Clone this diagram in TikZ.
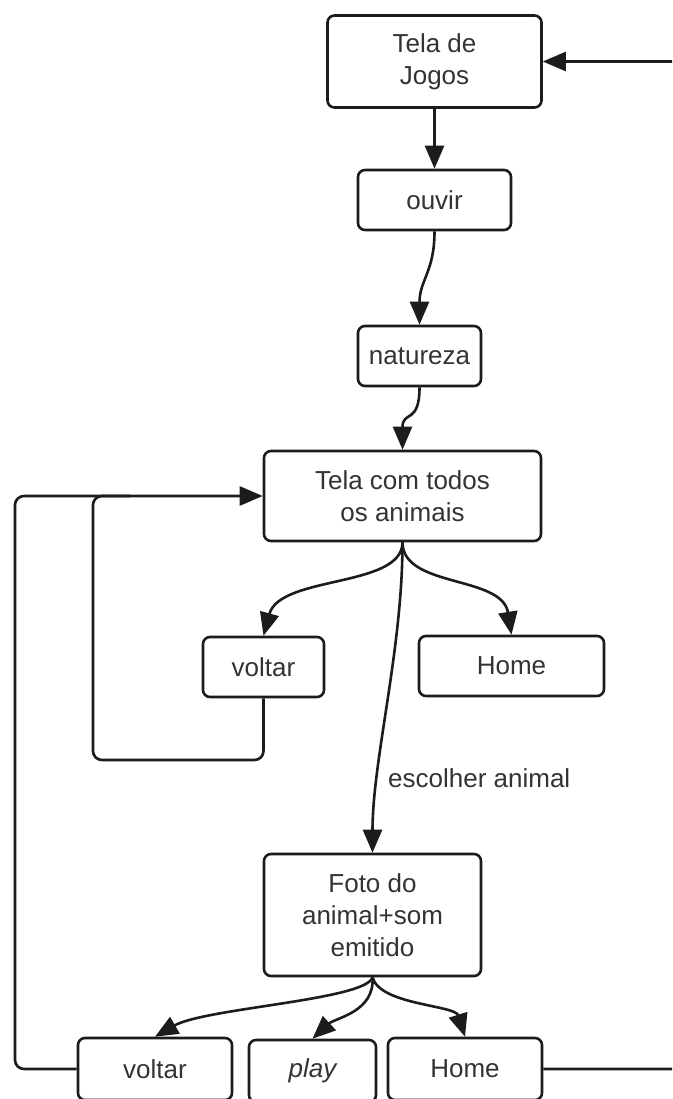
\documentclass[tikz,border=0pt]{standalone}
\usepackage{fontspec}
\setmainfont{Liberation Sans}
\usetikzlibrary{arrows.meta}
\definecolor{ink}{HTML}{1C1C1C}
\definecolor{txt}{HTML}{333333}
\tikzset{
  box/.style={draw=ink, line width=2.6pt, rounded corners=7pt, align=center,
    inner sep=0pt, text=txt, font=\fontsize{26}{32}\selectfont},
  tip/.style={-{Triangle[length=23pt,width=19pt]}},
  link/.style={draw=ink, line width=2.6pt, tip},
  wire/.style={draw=ink, line width=2.6pt, rounded corners=9pt},
  lbl/.style={text=txt, font=\fontsize{26}{32}\selectfont, inner sep=0pt}
}
\begin{document}
\begin{tikzpicture}[x=1pt, y=-1pt]
\path[use as bounding box, clip] (0,0) rectangle (672,1099);
\fill[white] (0,0) rectangle (672,1099);

% screens
\node[box, minimum width=214pt, minimum height=92pt] (tela1) at (434.5,61.5) {Tela de\\Jogos};
\node[box, minimum width=153pt, minimum height=60pt] (ouvir) at (434.5,200) {ouvir};
\node[box, minimum width=123pt, minimum height=60pt] (natureza) at (419.5,356) {natureza};
\node[box, minimum width=277pt, minimum height=90pt] (tela2) at (402.5,496) {Tela com todos\\os animais};
\node[box, minimum width=121pt, minimum height=60pt] (voltarA) at (263.5,667) {voltar};
\node[box, minimum width=185pt, minimum height=60pt] (homeA) at (511.5,666) {Home};
\node[box, minimum width=217pt, minimum height=122pt] (foto) at (372.5,915) {Foto do\\animal+som\\emitido};
\node[box, minimum width=154pt, minimum height=62pt] (voltarB) at (155,1069) {voltar};
\node[box, minimum width=127pt, minimum height=62pt] (play) at (312.5,1071) {\itshape play};
\node[box, minimum width=154pt, minimum height=62pt] (homeB) at (465,1069) {Home};

% forward flow
\draw[link] (tela1.south) -- (ouvir.north);
\draw[link] (ouvir.south) .. controls (434.5,272) and (419.5,280) .. (natureza.north);
\draw[link] (natureza.south) .. controls (419.5,425) and (402.5,410) .. (tela2.north);
\draw[link] (tela2.south) .. controls (402.5,588) and (280,575) .. (voltarA.north);
\draw[link] (tela2.south) .. controls (402.5,588) and (502,575) .. (homeA.north);
\draw[link] (tela2.south) .. controls (402.5,650) and (372.5,760) .. (foto.north);
\node[lbl, anchor=west] (escolher) at (388,778) {escolher animal};

\draw[link] (foto.south) .. controls (366,1000) and (205,1008) .. (voltarB.north);
\draw[link] (foto.south) .. controls (375,1012) and (335,1018) .. (play.north);
\draw[link] (foto.south) .. controls (380,1005) and (455,1005) .. (homeB.north);

% return paths
\coordinate (leftA) at (93,496);
\coordinate (leftB) at (15,496);
\draw[wire] (voltarA.south) -- (voltarA.south |- 0,760) -- (93,760) -- (leftA) -- (130,496);
\draw[wire, tip] (voltarB.west) -- (15,1069) -- (leftB) -- (tela2.west);
\draw[wire, tip] (homeB.east) -- (700,1069) -- (700,61.5) -- (tela1.east);
\end{tikzpicture}
\end{document}
